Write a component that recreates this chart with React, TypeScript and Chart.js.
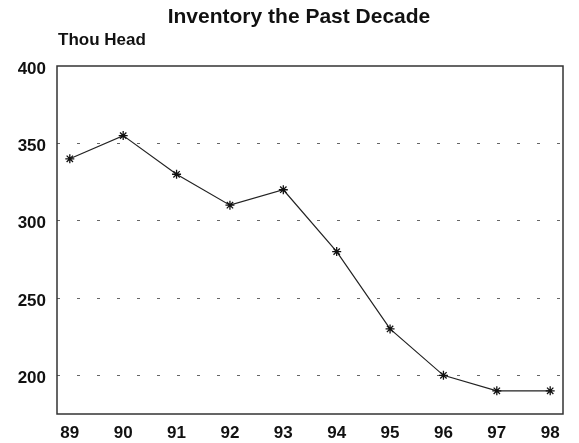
import React, { useEffect, useRef } from "react";
import { Chart, registerables } from "chart.js";

Chart.register(...registerables);

const years = [89, 90, 91, 92, 93, 94, 95, 96, 97, 98];
const inventory = [340, 355, 330, 310, 320, 280, 230, 200, 190, 190];
const yTicks = [200, 250, 300, 350, 400];
const titleText = "Inventory the Past Decade";
const unitText = "Thou Head";

const FONT = "'Liberation Sans', Arial, Helvetica, sans-serif";

const decorPlugin = {
  id: "decor",
  afterDraw(chart: any) {
    const { ctx, chartArea } = chart;
    ctx.save();
    ctx.strokeStyle = "#333";
    ctx.lineWidth = 1.5;
    ctx.strokeRect(chartArea.left, chartArea.top, chartArea.right - chartArea.left, chartArea.bottom - chartArea.top);
    ctx.fillStyle = "#111";
    ctx.textBaseline = "middle";
    ctx.font = `bold 21px ${FONT}`;
    ctx.textAlign = "center";
    ctx.fillText(titleText, 299, 17);
    ctx.font = `bold 17px ${FONT}`;
    ctx.textAlign = "left";
    ctx.fillText(unitText, 58, 40);
    ctx.restore();
  },
};

export default function App() {
  const ref = useRef<HTMLCanvasElement | null>(null);
  useEffect(() => {
    document.body.style.margin = "0";
    const chart = new Chart(ref.current!, {
      type: "line",
      data: {
        datasets: [
          {
            data: years.map((y, i) => ({ x: y, y: inventory[i] })),
            borderColor: "#222",
            borderWidth: 1.2,
            pointStyle: "star",
            pointRadius: 4.5,
            pointBorderColor: "#111",
            pointBorderWidth: 1.3,
            pointBackgroundColor: "#111",
            tension: 0,
          },
        ],
      },
      options: {
        animation: false,
        responsive: false,
        maintainAspectRatio: false,
        layout: { padding: { top: 66, right: 16, left: 0, bottom: 0 } },
        plugins: { legend: { display: false }, title: { display: false }, tooltip: { enabled: false } },
        scales: {
          x: {
            type: "linear",
            min: 88.76,
            max: 98.24,
            afterBuildTicks: (s: any) => {
              s.ticks = years.map((v) => ({ value: v }));
            },
            afterFit: (s: any) => {
              s.height = 29;
            },
            grid: { display: false, drawTicks: false },
            border: { display: false },
            ticks: {
              padding: 9,
              color: "#111",
              font: { family: FONT, size: 17, weight: "bold" },
              callback: (v: any) => String(v),
              maxRotation: 0,
              autoSkip: false,
            },
          },
          y: {
            min: 175,
            max: 400,
            afterBuildTicks: (s: any) => {
              s.ticks = yTicks.map((v) => ({ value: v }));
            },
            afterFit: (s: any) => {
              s.width = 57;
            },
            grid: {
              drawTicks: false,
              color: (c: any) => (c.tick && c.tick.value === 400 ? "rgba(0,0,0,0)" : "#666"),
              lineWidth: 1,
            },
            border: { display: false, dash: [3, 17] },
            ticks: {
              padding: 11,
              labelOffset: 3,
              color: "#111",
              font: { family: FONT, size: 17, weight: "bold" },
            },
          },
        },
      },
      plugins: [decorPlugin],
    } as any);
    return () => chart.destroy();
  }, []);
  return (
    <div style={{ position: "absolute", left: 0, top: 0, width: 579, height: 443 }}>
      <canvas ref={ref} width={579} height={443} style={{ width: 579, height: 443 }} />
    </div>
  );
}
